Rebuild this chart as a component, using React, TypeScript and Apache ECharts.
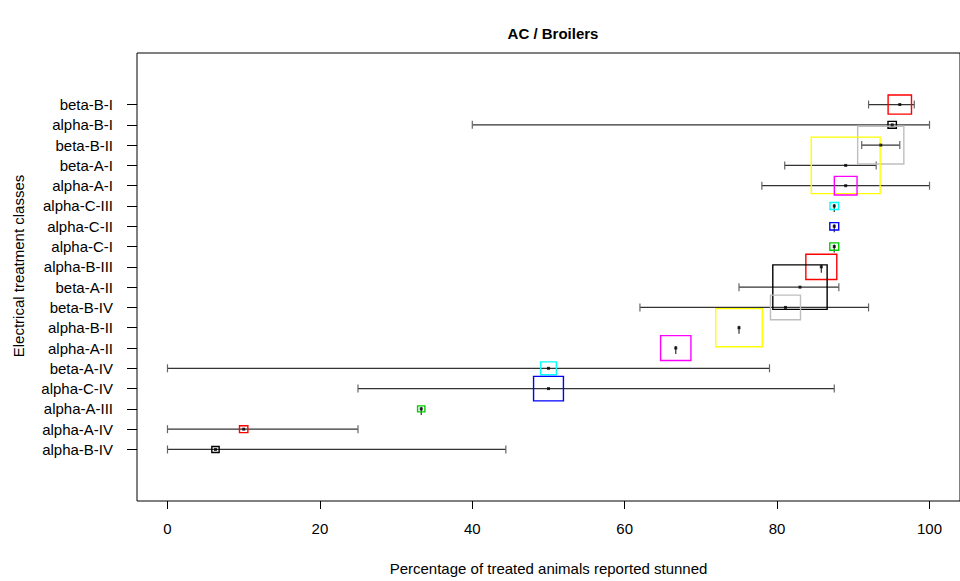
import React, { useEffect, useRef } from "react";
import * as echarts from "echarts";

// Rows from top to bottom
const classes = [
  "beta-B-I", "alpha-B-I", "beta-B-II", "beta-A-I", "alpha-A-I", "alpha-C-III",
  "alpha-C-II", "alpha-C-I", "alpha-B-III", "beta-A-II", "beta-B-IV", "alpha-B-II",
  "alpha-A-II", "beta-A-IV", "alpha-C-IV", "alpha-A-III", "alpha-A-IV", "alpha-B-IV",
];
const estimate = [96.1, 95.1, 93.6, 89.0, 89.0, 87.5, 87.5, 87.5, 85.8, 83.0, 81.1, 75.0, 66.7, 50.0, 50.0, 33.3, 10.0, 6.3];
const lower = [92.0, 40.0, 91.1, 81.0, 78.0, 87.5, 87.5, 87.5, 85.8, 75.0, 62.0, 75.0, 66.7, 0.0, 25.0, 33.3, 0.0, 0.0];
const upper = [98.0, 100.0, 96.1, 93.0, 100.0, 87.5, 87.5, 87.5, 85.8, 88.1, 92.0, 75.0, 66.7, 79.0, 87.5, 33.3, 25.0, 44.4];
const weight = [3.07, 1.1, 6.06, 9.04, 2.98, 1.13, 1.17, 1.17, 4.06, 7.13, 3.94, 6.11, 3.98, 2.06, 3.92, 0.96, 1.1, 0.96];
const xTicks = [0, 20, 40, 60, 80, 100];
const rPalette = ["#000000", "#FF0000", "#00CD00", "#0000FF", "#00FFFF", "#FF00FF", "#FFFF00", "#BEBEBE"];

const FONT = "'Liberation Sans', Arial, Helvetica, sans-serif";

export default function App() {
  const ref = useRef<HTMLDivElement>(null);
  useEffect(() => {
    document.body.style.margin = "0";
    if (!ref.current) return;
    const chart = echarts.init(ref.current, null, { renderer: "svg" });
    const n = classes.length;
    const yVals = classes.map((_, i) => n - i);
    const rows = classes.map((c, i) => [estimate[i], lower[i], upper[i], yVals[i], weight[i], (n - 1 - i) % 8]);

    chart.setOption({
      animation: false,
      backgroundColor: "#ffffff",
      textStyle: { fontFamily: FONT },
      graphic: [
        {
          type: "text",
          x: 553,
          y: 33,
          style: {
            text: "AC / Broilers",
            font: `bold 15px ${FONT}`,
            fill: "#000",
            align: "center",
            verticalAlign: "middle",
          },
        },
        {
          type: "text",
          x: 18,
          y: 266,
          rotation: Math.PI / 2,
          style: {
            text: "Electrical treatment classes",
            font: `15px ${FONT}`,
            fill: "#000",
            align: "center",
            verticalAlign: "middle",
          },
        },
      ],
      grid: {
        left: 137,
        top: 53,
        width: 832,
        height: 452,
        show: true,
        borderColor: "#000",
        borderWidth: 1,
        backgroundColor: "transparent",
      },
      xAxis: {
        type: "value",
        min: -4,
        max: 104,
        axisLine: { show: false, onZero: false },
        splitLine: { show: false },
        axisTick: { show: true, inside: false, length: 8, customValues: xTicks, lineStyle: { color: "#000" } },
        axisLabel: { customValues: xTicks, color: "#000", fontSize: 15, margin: 20, fontFamily: FONT },
        name: "Percentage of treated animals reported stunned",
        nameLocation: "middle",
        nameGap: 60,
        nameTextStyle: { color: "#000", fontSize: 15, fontFamily: FONT },
      },
      yAxis: {
        type: "value",
        min: -1.54,
        max: n + 2.54,
        axisLine: { show: false, onZero: false },
        splitLine: { show: false },
        axisTick: { show: true, inside: false, length: 10, customValues: yVals, lineStyle: { color: "#000" } },
        axisLabel: {
          customValues: yVals,
          color: "#000",
          fontSize: 15,
          margin: 24,
          fontFamily: FONT,
          formatter: (v: number) => classes[n - Math.round(v)] ?? "",
        },
      },
      series: [
        {
          type: "custom",
          name: "ci",
          data: rows,
          encode: { x: [0, 1, 2], y: 3 },
          z: 2,
          renderItem: (params: any, api: any) => {
            const y = api.value(3);
            const lo = api.coord([api.value(1), y]);
            const hi = api.coord([api.value(2), y]);
            const children: any[] = [];
            const st = { stroke: "#333", lineWidth: 1.2 };
            const tk = { stroke: "#666", lineWidth: 1.2 };
            if (hi[0] - lo[0] > 0.5) {
              children.push({ type: "line", shape: { x1: lo[0], y1: lo[1], x2: hi[0], y2: hi[1] }, style: st });
              children.push({ type: "line", shape: { x1: lo[0], y1: lo[1] - 4, x2: lo[0], y2: lo[1] + 4 }, style: tk });
              children.push({ type: "line", shape: { x1: hi[0], y1: hi[1] - 4, x2: hi[0], y2: hi[1] + 4 }, style: tk });
            } else {
              children.push({ type: "line", shape: { x1: lo[0], y1: lo[1] - 2, x2: lo[0], y2: lo[1] + 6 }, style: st });
            }
            return { type: "group", children };
          },
        },
        {
          type: "custom",
          name: "weights",
          data: rows,
          encode: { x: 0, y: 3 },
          z: 3,
          renderItem: (params: any, api: any) => {
            const c = api.coord([api.value(0), api.value(3)]);
            const w = api.size([api.value(4), 0])[0];
            const h = w / 1.22;
            const col = rPalette[api.value(5)];
            return {
              type: "rect",
              shape: { x: c[0] - w / 2, y: c[1] - h / 2, width: w, height: h },
              style: { fill: "none", stroke: col, lineWidth: 1.4 },
            };
          },
        },
        {
          type: "scatter",
          name: "estimate",
          data: rows.map((r) => [r[0], r[3]]),
          symbol: "rect",
          symbolSize: 3,
          itemStyle: { color: "#000" },
          z: 4,
        },
      ],
    });
    return () => chart.dispose();
  }, []);
  return <div ref={ref} style={{ width: 960, height: 581 }} />;
}
